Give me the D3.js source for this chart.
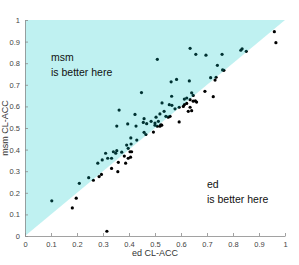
<!DOCTYPE html>
<html>
<head>
<meta charset="utf-8">
<script src="https://cdn.jsdelivr.net/npm/d3@7"></script>
<style>
  body { margin: 0; background: #fff; }
  text { font-family: "Liberation Sans", Arial, sans-serif; }
</style>
</head>
<body>
<div id="chart"></div>
<script>
// ed CL-ACC (x) vs msm CL-ACC (y), one point per dataset
let edAcc = [0.103, 0.182, 0.197, 0.209, 0.245, 0.263, 0.285, 0.294, 0.315, 0.280,
    0.297, 0.310, 0.318, 0.333, 0.333, 0.357, 0.340, 0.353, 0.349, 0.359,
    0.372, 0.382, 0.387, 0.391, 0.397, 0.397, 0.404, 0.410, 0.406, 0.407,
    0.408, 0.430, 0.458, 0.465, 0.494, 0.448, 0.362, 0.423, 0.458, 0.353,
    0.395, 0.427, 0.455, 0.468, 0.485, 0.500, 0.513, 0.522, 0.500, 0.509,
    0.519, 0.526, 0.504, 0.519, 0.535, 0.527, 0.542, 0.551, 0.558, 0.555,
    0.565, 0.577, 0.564, 0.593, 0.593, 0.609, 0.613, 0.622, 0.635, 0.635,
    0.641, 0.628, 0.641, 0.647, 0.647, 0.655, 0.660, 0.613, 0.622, 0.509,
    0.635, 0.657, 0.696, 0.758, 0.830, 0.835, 0.851, 0.740, 0.760, 0.765,
    0.562, 0.583, 0.632, 0.714, 0.735, 0.731, 0.692, 0.724, 0.959, 0.965];
let msmAcc = [0.163, 0.130, 0.175, 0.244, 0.270, 0.258, 0.275, 0.285, 0.022, 0.337,
    0.352, 0.383, 0.360, 0.360, 0.313, 0.298, 0.390, 0.395, 0.383, 0.341,
    0.388, 0.370, 0.337, 0.421, 0.406, 0.360, 0.390, 0.390, 0.365, 0.454,
    0.426, 0.444, 0.480, 0.470, 0.481, 0.664, 0.583, 0.563, 0.543, 0.509,
    0.519, 0.509, 0.526, 0.520, 0.531, 0.523, 0.531, 0.515, 0.513, 0.508,
    0.508, 0.513, 0.550, 0.565, 0.577, 0.616, 0.554, 0.550, 0.554, 0.608,
    0.605, 0.589, 0.647, 0.596, 0.528, 0.600, 0.608, 0.639, 0.631, 0.596,
    0.580, 0.577, 0.663, 0.651, 0.624, 0.626, 0.620, 0.634, 0.614, 0.818,
    0.869, 0.841, 0.837, 0.841, 0.860, 0.867, 0.855, 0.790, 0.769, 0.767,
    0.714, 0.725, 0.718, 0.733, 0.735, 0.722, 0.670, 0.645, 0.946, 0.895];
let tickValues = [0, 0.1, 0.2, 0.3, 0.4, 0.5, 0.6, 0.7, 0.8, 0.9, 1];
let tickLabels = ["0", "0.1", "0.2", "0.3", "0.4", "0.5", "0.6", "0.7", "0.8", "0.9", "1"];

let width = 299, height = 265;
let margin = {top: 20, right: 14, bottom: 29, left: 25};
let innerW = width - margin.left - margin.right;
let innerH = height - margin.top - margin.bottom;

let points = edAcc.map((d, i) => ({x: d, y: msmAcc[i]}));

let svg = d3.select("#chart")
    .append("svg")
    .attr("width", width)
    .attr("height", height)
    .append("g")
    .attr("transform", `translate(${margin.left}, ${margin.top})`);

let x = d3.scaleLinear().domain([0, 1]).range([0, innerW]);
let y = d3.scaleLinear().domain([0, 1]).range([innerH, 0]);

// points first, the translucent patch goes over them
svg.append("g")
    .selectAll("circle")
    .data(points)
    .enter()
    .append("circle")
    .attr("cx", d => x(d.x))
    .attr("cy", d => y(d.y))
    .attr("r", 1.6)
    .attr("fill", "#000");

let tri = [[0, 0], [1, 1], [0, 1]];
svg.append("path")
    .attr("d", d3.line().x(d => x(d[0])).y(d => y(d[1]))(tri) + "Z")
    .attr("fill", "rgb(0,200,200)")
    .attr("fill-opacity", 0.25);

let xAxis = d3.axisBottom(x)
    .tickValues(tickValues)
    .tickFormat((d, i) => tickLabels[i])
    .tickSizeInner(-3)
    .tickSizeOuter(0)
    .tickPadding(6);
let yAxis = d3.axisLeft(y)
    .tickValues(tickValues)
    .tickFormat((d, i) => tickLabels[i])
    .tickSizeInner(-3)
    .tickSizeOuter(0)
    .tickPadding(5);

let gx = svg.append("g")
    .attr("transform", `translate(0, ${innerH})`)
    .call(xAxis);
let gy = svg.append("g").call(yAxis);

[gx, gy].forEach(g => {
    g.select(".domain").attr("stroke", "#8a8a8a").attr("stroke-width", 0.8);
    g.selectAll(".tick line").attr("stroke", "#8a8a8a").attr("stroke-width", 0.8);
    g.selectAll(".tick text").attr("fill", "#444").style("font-size", "7.5px")
        .style("font-family", "Liberation Sans, Arial, sans-serif");
});

svg.append("text")
    .attr("transform", `translate(${innerW / 2}, ${innerH + 20})`)
    .style("text-anchor", "middle")
    .style("font-size", "9px")
    .attr("fill", "#333")
    .text("ed CL-ACC");

svg.append("text")
    .attr("transform", `translate(-17, ${innerH / 2}) rotate(-90)`)
    .style("text-anchor", "middle")
    .style("font-size", "9px")
    .attr("fill", "#333")
    .text("msm CL-ACC");

let notes = [
    {lines: ["msm", "is better here"], vx: 0.1, vy: 0.81},
    {lines: ["ed", "is better here"], vx: 0.7, vy: 0.22}
];
notes.forEach(n => {
    let t = svg.append("text")
        .attr("x", x(n.vx))
        .attr("y", y(n.vy))
        .style("font-size", "10.5px")
        .attr("fill", "#111");
    n.lines.forEach((s, i) => {
        t.append("tspan")
            .attr("x", x(n.vx))
            .attr("dy", i == 0 ? 0 : 15)
            .text(s);
    });
});
</script>
</body>
</html>
